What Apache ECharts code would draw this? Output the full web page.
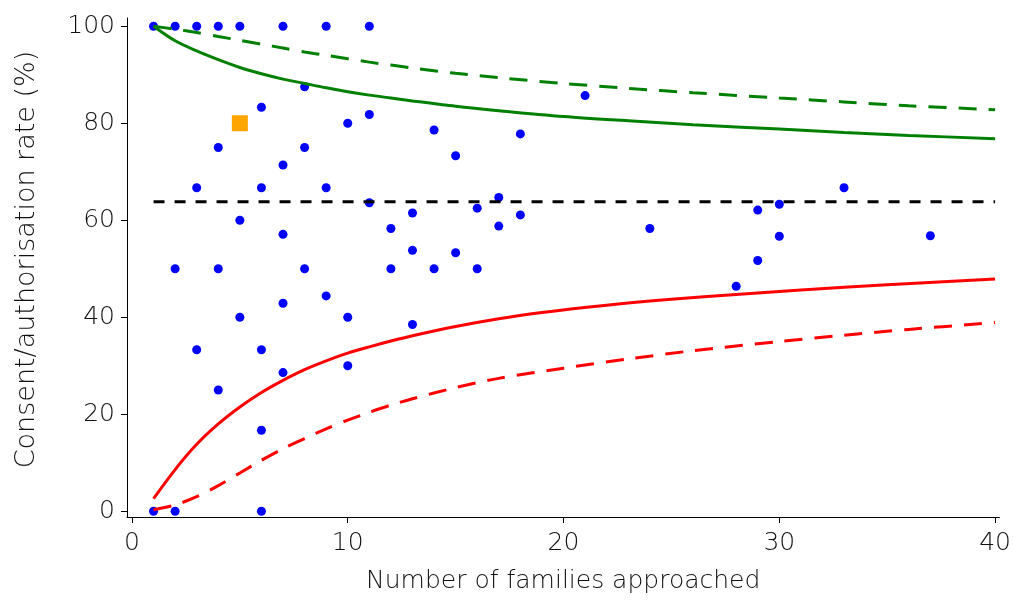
<!DOCTYPE html>
<html>
<head>
<meta charset="utf-8">
<script src="https://cdn.jsdelivr.net/npm/echarts@6/dist/echarts.min.js"></script>
<style>
html,body{margin:0;padding:0;background:#fff;}
#chart{width:1014px;height:600px;}
</style>
</head>
<body>
<div id="chart"></div>
<script>
// Tick labels
const xTicks = [0, 10, 20, 30, 40];
const yTicks = [0, 20, 40, 60, 80, 100];

// Units: [families approached, consent/authorisation rate %]
const unitX = [1,1, 2,2,2, 3,3,3, 4,4,4,4, 5,5,5, 6,6,6,6,6, 7,7,7,7,7, 8,8,8, 9,9,9, 10,10,10, 11,11,11, 12,12, 13,13,13, 14,14, 15,15, 16,16, 17,17, 18,18, 21, 24, 28, 29,29, 30,30, 33, 37];
const unitY = [100,0, 100,50,0, 100,66.7,33.3, 100,75,50,25, 100,60,40, 83.3,66.7,33.3,16.7,0, 100,71.4,57.1,42.9,28.6, 87.5,75,50, 100,66.7,44.4, 80,40,30, 100,81.8,63.6, 58.3,50, 61.5,53.8,38.5, 78.6,50, 73.3,53.3, 62.5,50, 64.7,58.8, 77.8,61.1, 85.7, 58.3, 46.4, 62.1,51.7, 63.3,56.7, 66.7, 56.8];

// Highlighted unit
const highlightX = [5];
const highlightY = [80];

// Overall mean rate
const meanRate = 63.8;
const meanX = [1, 40];

// Control limits
const upper95X = [1, 2, 3, 4, 5, 6, 7, 8, 9, 10, 11, 12, 13, 15, 17, 20, 23, 26, 30, 33, 36, 40];
const upper95Y = [100, 97.0, 94.9, 93.1, 91.5, 90.2, 89.1, 88.2, 87.3, 86.5, 85.8, 85.2, 84.6, 83.5, 82.6, 81.4, 80.5, 79.7, 78.8, 78.1, 77.5, 76.8];

const upper998X = [1, 2, 3, 4, 5, 6, 7, 8, 9, 10, 11, 12, 13, 15, 17, 20, 23, 26, 30, 33, 36, 40];
const upper998Y = [100, 99.4, 98.7, 97.9, 97.1, 96.3, 95.5, 94.7, 94.0, 93.3, 92.6, 92.0, 91.4, 90.3, 89.4, 88.2, 87.2, 86.3, 85.2, 84.4, 83.6, 82.8];

const lower95X = [1, 2, 3, 4, 5, 6, 7, 8, 9, 10, 11, 12, 13, 15, 17, 19, 22, 25, 28, 31, 35, 40];
const lower95Y = [2.6, 8.6, 13.8, 18.0, 21.5, 24.5, 27.0, 29.2, 31.0, 32.6, 33.9, 35.1, 36.2, 38.1, 39.7, 41.0, 42.5, 43.7, 44.7, 45.6, 46.7, 47.9];

const lower998X = [1, 2, 3, 4, 5, 6, 7, 8, 9, 10, 11, 12, 13, 15, 17, 20, 23, 26, 30, 33, 36, 40];
const lower998Y = [0.3, 1.3, 3.0, 5.3, 7.9, 10.5, 12.9, 15.0, 17.0, 18.8, 20.4, 21.9, 23.2, 25.5, 27.4, 29.5, 31.4, 33.1, 35.0, 36.3, 37.5, 38.9];

const zip = (xs, ys) => xs.map((x, i) => [x, ys[i]]);

const FONT = 'DejaVu Sans';
const txt = { fontFamily: FONT, fontSize: 25, fontWeight: 200, color: '#111' };

const lineBase = { type: 'line', z: 5, smooth: 0.3, showSymbol: false };

const chart = echarts.init(document.getElementById('chart'), null, { renderer: 'canvas' });
chart.setOption({
  backgroundColor: '#ffffff',
  animation: false,
  grid: { left: 127, right: 14, top: 18, bottom: 83, containLabel: false },
  xAxis: {
    type: 'value',
    min: -0.23, max: 40.2,
    name: 'Number of families approached',
    nameLocation: 'middle',
    nameGap: 52,
    nameTextStyle: Object.assign({}, txt),
    splitLine: { show: false },
    axisLine: { show: true, onZero: false, lineStyle: { color: '#000', width: 1 } },
    axisTick: { show: true, length: 6, lineStyle: { color: '#000' }, customValues: xTicks },
    axisLabel: Object.assign({ margin: 14, customValues: xTicks, formatter: v => String(v) }, txt)
  },
  yAxis: {
    type: 'value',
    min: -1.18, max: 101.7,
    name: 'Consent/authorisation rate (%)',
    nameLocation: 'middle',
    nameGap: 87,
    nameRotate: 90,
    nameTextStyle: Object.assign({}, txt, { fontSize: 27, padding: [0, 0, 0, 16] }),
    splitLine: { show: false },
    axisLine: { show: true, onZero: false, lineStyle: { color: '#000', width: 1 } },
    axisTick: { show: true, length: 6, lineStyle: { color: '#000' }, customValues: yTicks },
    axisLabel: Object.assign({ margin: 12, customValues: yTicks, formatter: v => String(v) }, txt)
  },
  series: [
    {
      type: 'scatter', name: 'Units', z: 2,
      data: zip(unitX, unitY),
      symbol: 'circle', symbolSize: 9,
      itemStyle: { color: '#0000ff', opacity: 1 }
    },
    {
      type: 'scatter', name: 'Highlighted', z: 2,
      data: zip(highlightX, highlightY),
      symbol: 'rect', symbolSize: 16,
      itemStyle: { color: '#ffa500', opacity: 1 }
    },
    {
      type: 'line', name: 'Mean', z: 5,
      data: zip(meanX, [meanRate, meanRate]),
      showSymbol: false,
      lineStyle: { color: '#000', width: 3, type: [11, 10] }
    },
    Object.assign({}, lineBase, {
      name: 'Upper 95%', data: zip(upper95X, upper95Y),
      lineStyle: { color: '#008000', width: 3, type: 'solid' }
    }),
    Object.assign({}, lineBase, {
      name: 'Upper 99.8%', data: zip(upper998X, upper998Y),
      lineStyle: { color: '#008000', width: 3, type: [18, 12] }
    }),
    Object.assign({}, lineBase, {
      name: 'Lower 95%', data: zip(lower95X, lower95Y),
      lineStyle: { color: '#ff0000', width: 3, type: 'solid' }
    }),
    Object.assign({}, lineBase, {
      name: 'Lower 99.8%', data: zip(lower998X, lower998Y),
      lineStyle: { color: '#ff0000', width: 3, type: [18, 12] }
    })
  ]
});
</script>
</body>
</html>
